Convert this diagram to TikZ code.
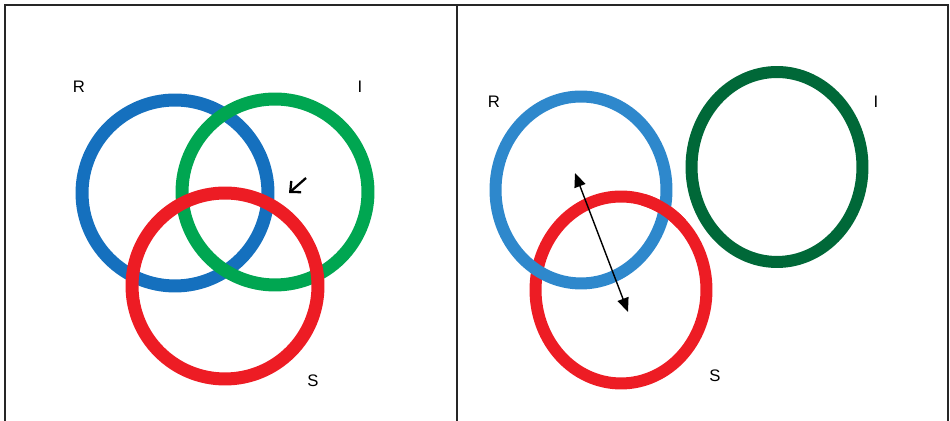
\documentclass[tikz,border=0pt]{standalone}
\usepackage{fontspec}
\setmainfont{Liberation Sans}
\usepackage{tikz}
\usetikzlibrary{
    positioning,
    arrows.meta,
    shapes.geometric
}
\definecolor{RingBlue}{RGB}{21,112,190}
\definecolor{RingLightBlue}{RGB}{46,136,204}
\definecolor{RingGreen}{RGB}{0,166,81}
\definecolor{RingDarkGreen}{RGB}{0,104,56}
\definecolor{RingRed}{RGB}{237,28,36}

\begin{document}
\begin{tikzpicture}[
    x=0.02cm, y=0.02cm,
    frame/.style={line width=1.1pt, color=black!85},
    ring/.style={circle, draw, line width=0.26cm, minimum size=3.72cm, inner sep=0pt},
    oval/.style={ellipse, draw, line width=0.24cm, minimum width=3.42cm, minimum height=3.74cm, inner sep=0pt},
    letter/.style={font=\fontsize{9.5}{11}\selectfont, inner sep=0pt},
    pointer/.style={line width=1.3pt, -{Straight Barb[length=1.6mm, width=3mm]}},
    span/.style={line width=0.8pt, {Triangle[length=2.8mm, width=2.3mm]}-{Triangle[length=2.8mm, width=2.3mm]}}
]
\useasboundingbox (0,0) rectangle (950,421);

% frame
\coordinate (topleft) at (5,416);
\coordinate (topright) at (948,416);
\coordinate (topmid) at (457,416);
\draw[frame] (5,0) |- (topright) -- (948,0);
\draw[frame] (topmid) -- (457,0);

% left panel: three rings
\node[ring, draw=RingBlue] (leftR) at (175,228) {};
\node[ring, draw=RingGreen] (leftI) at (275,229) {};
\node[ring, draw=RingRed] (leftS) at (225,135) {};

\node[letter] (labelRa) at (79,334) {R};
\node[letter] (labelIa) at (360,334) {I};
\node[letter] (labelSa) at (313,40) {S};

\coordinate (pointtail) at (306,243);
\coordinate (pointtip) at (289,228);
\draw[pointer] (pointtail) -- (pointtip);

% right panel: R and S linked, I apart
\node[oval, draw=RingRed] (rightS) at (621,131) {};
\node[oval, draw=RingLightBlue] (rightR) at (581,231) {};
\draw[line width=0.24cm, RingRed] ([shift={(45:1.71cm and 1.87cm)}]rightS.center)
    arc[start angle=45, end angle=75, x radius=1.71cm, y radius=1.87cm];
\node[oval, draw=RingDarkGreen, minimum height=3.8cm] (rightI) at (777,254) {};

\node[letter] (labelRb) at (494,319) {R};
\node[letter] (labelIb) at (876,319) {I};
\node[letter] (labelSb) at (715,45) {S};

\coordinate (spanA) at (575,248);
\coordinate (spanB) at (628,109);
\draw[span] (spanA) -- (spanB);
\end{tikzpicture}
\end{document}
